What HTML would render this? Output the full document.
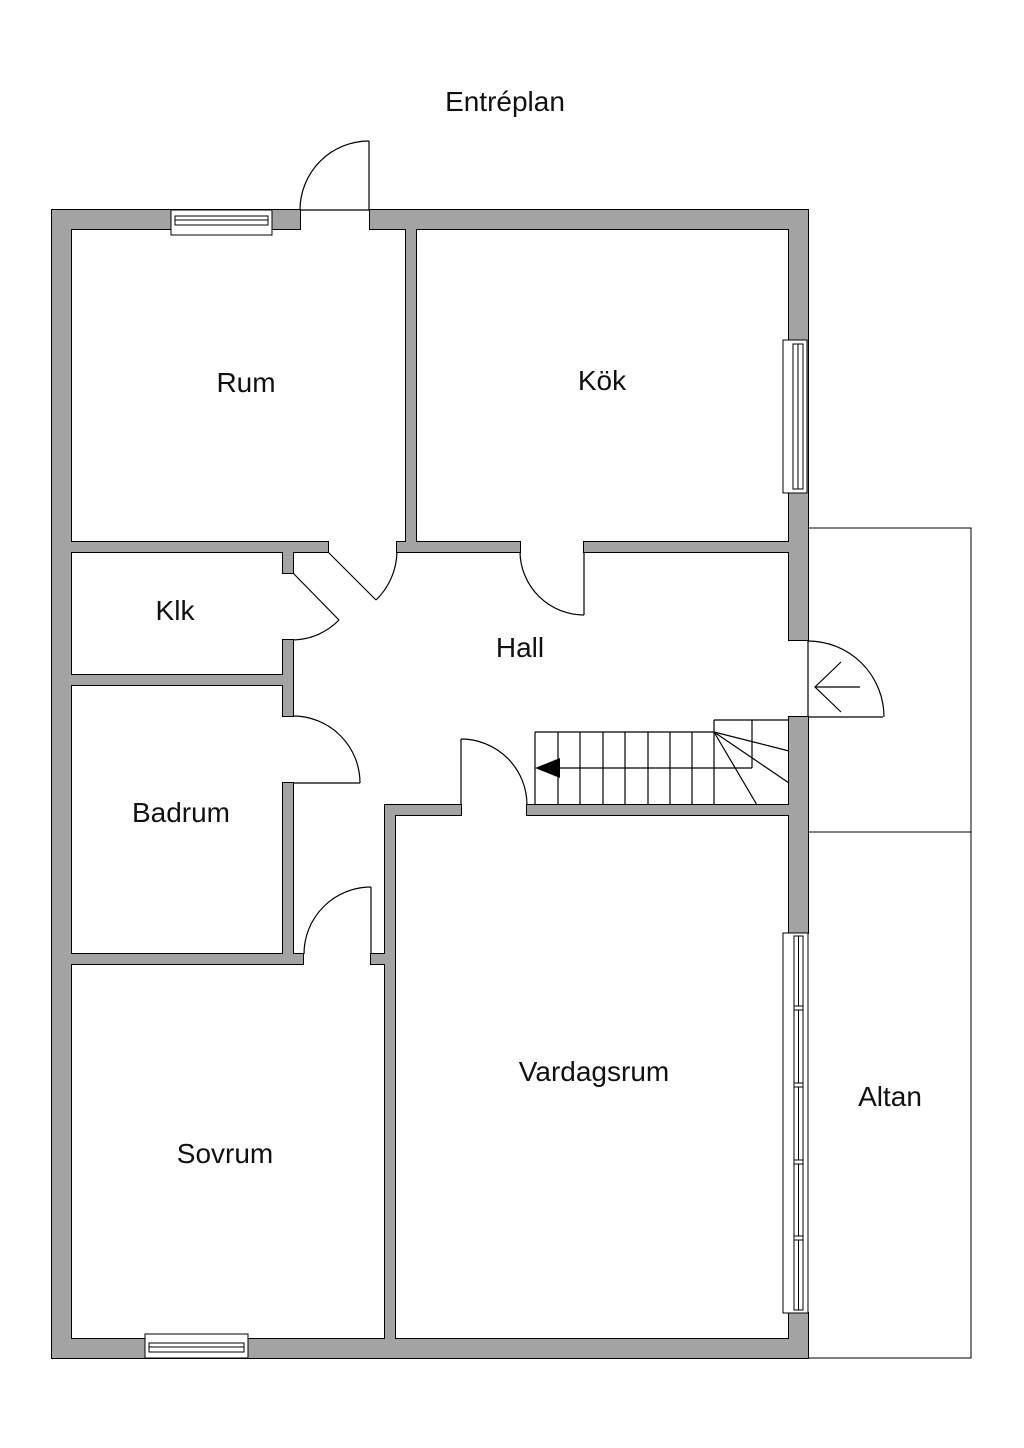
<!DOCTYPE html>
<html><head><meta charset="utf-8"><style>
html,body{margin:0;padding:0;background:#fff;}
svg{display:block;}
text{font-family:"Liberation Sans",sans-serif;font-size:28px;fill:#111;text-anchor:middle;}
</style></head><body>
<svg width="1024" height="1448" viewBox="0 0 1024 1448">
<rect width="1024" height="1448" fill="#fff"/>
<!-- Altan -->
<rect x="808" y="528" width="163" height="830" fill="none" stroke="#000" stroke-width="1"/>
<line x1="808" y1="832" x2="971" y2="832" stroke="#000"/>
<g id="walls">
<g stroke="#000" stroke-width="2" fill="#000">
<rect x="52" y="210" width="248" height="19"/><rect x="370" y="210" width="438" height="19"/>
<rect x="52" y="210" width="19" height="1148"/><rect x="52" y="1339" width="756" height="19"/>
<rect x="789" y="210" width="19" height="430"/><rect x="789" y="717" width="19" height="216"/><rect x="789" y="1313" width="19" height="45"/>
<rect x="406" y="229" width="10" height="323"/>
<rect x="71" y="542" width="257" height="10"/><rect x="397" y="542" width="123" height="10"/><rect x="584" y="542" width="205" height="10"/>
<rect x="283" y="552" width="10" height="21"/><rect x="283" y="640" width="10" height="76"/><rect x="283" y="783" width="10" height="181"/>
<rect x="71" y="675" width="212" height="10"/>
<rect x="71" y="954" width="232" height="10"/><rect x="371" y="954" width="14" height="10"/>
<rect x="385" y="805" width="10" height="534"/><rect x="385" y="805" width="76" height="10"/>
<rect x="527" y="805" width="262" height="10"/>
</g>
<g fill="#a3a3a3">
<rect x="52" y="210" width="248" height="19"/><rect x="370" y="210" width="438" height="19"/>
<rect x="52" y="210" width="19" height="1148"/><rect x="52" y="1339" width="756" height="19"/>
<rect x="789" y="210" width="19" height="430"/><rect x="789" y="717" width="19" height="216"/><rect x="789" y="1313" width="19" height="45"/>
<rect x="406" y="229" width="10" height="323"/>
<rect x="71" y="542" width="257" height="10"/><rect x="397" y="542" width="123" height="10"/><rect x="584" y="542" width="205" height="10"/>
<rect x="283" y="552" width="10" height="21"/><rect x="283" y="640" width="10" height="76"/><rect x="283" y="783" width="10" height="181"/>
<rect x="71" y="675" width="212" height="10"/>
<rect x="71" y="954" width="232" height="10"/><rect x="371" y="954" width="14" height="10"/>
<rect x="385" y="805" width="10" height="534"/><rect x="385" y="805" width="76" height="10"/>
<rect x="527" y="805" width="262" height="10"/>
</g>
</g>
<g fill="#fff" stroke="#000" stroke-width="1">
<!-- top window -->
<rect x="171" y="210" width="101" height="25"/>
<rect x="175" y="216" width="93" height="9"/><line x1="175" y1="220" x2="268" y2="220"/>
<!-- bottom window -->
<rect x="145" y="1334" width="103" height="24"/>
<rect x="149" y="1343" width="95" height="9"/><line x1="149" y1="1347" x2="244" y2="1347"/>
<!-- kok window -->
<rect x="783" y="340" width="24" height="153"/>
<rect x="793" y="344" width="10" height="145"/><line x1="798" y1="344" x2="798" y2="489"/>
<!-- vardagsrum window -->
<rect x="783" y="933" width="25" height="380"/>
<rect x="794" y="936" width="9" height="374"/><line x1="798.5" y1="936" x2="798.5" y2="1310"/>
<rect x="794" y="1006" width="9" height="4"/><rect x="794" y="1083" width="9" height="4"/><rect x="794" y="1160" width="9" height="4"/><rect x="794" y="1236" width="9" height="4"/>
</g>
<g fill="none" stroke="#000" stroke-width="1.2">
<!-- entrance door top -->
<line x1="300" y1="210" x2="370" y2="210"/>
<line x1="369" y1="210" x2="369" y2="141"/>
<path d="M369 141 A69 69 0 0 0 300 210"/>
<!-- rum door -->
<line x1="328" y1="552" x2="376" y2="600"/>
<path d="M397 552 A69 69 0 0 1 376 600"/>
<!-- kok door -->
<line x1="584" y1="552" x2="584" y2="615"/>
<path d="M520 552 A64 64 0 0 0 584 615"/>
<!-- klk door -->
<line x1="293" y1="573" x2="339" y2="620"/>
<path d="M339 620 A66 66 0 0 1 293 640"/>
<!-- badrum door -->
<line x1="293" y1="783" x2="360" y2="783"/>
<path d="M293 716 A67 67 0 0 1 360 783"/>
<!-- sovrum door -->
<line x1="371" y1="954" x2="371" y2="887"/>
<path d="M371 887 A67 67 0 0 0 304 954"/>
<!-- vardagsrum door -->
<line x1="461" y1="805" x2="461" y2="739"/>
<path d="M461 739 A66 66 0 0 1 527 805"/>
<!-- exterior right door -->
<line x1="808" y1="640" x2="808" y2="717"/>
<line x1="808" y1="717" x2="883" y2="717"/>
<path d="M808 641 A76 76 0 0 1 884 717"/>
<line x1="815" y1="687" x2="860" y2="687"/>
<polyline points="841,662 815,687 841,712"/>
<!-- stairs -->
<line x1="535" y1="732" x2="714" y2="732"/>
<line x1="535" y1="732" x2="535" y2="805"/>
<line x1="558" y1="732" x2="558" y2="805"/><line x1="580" y1="732" x2="580" y2="805"/>
<line x1="603" y1="732" x2="603" y2="805"/><line x1="625" y1="732" x2="625" y2="805"/>
<line x1="648" y1="732" x2="648" y2="805"/><line x1="670" y1="732" x2="670" y2="805"/>
<line x1="692" y1="732" x2="692" y2="805"/><line x1="714" y1="720" x2="714" y2="805"/>
<line x1="714" y1="720" x2="789" y2="720"/>
<line x1="752" y1="720" x2="752" y2="768"/>
<line x1="555" y1="768" x2="752" y2="768"/>
<line x1="714" y1="732" x2="789" y2="751"/>
<line x1="714" y1="732" x2="789" y2="783"/>
<line x1="714" y1="732" x2="757" y2="805"/>
</g>
<polygon points="535,768 560,758 560,778" fill="#000"/>
<text x="505" y="111">Entréplan</text>
<text x="246" y="392">Rum</text>
<text x="602" y="390">Kök</text>
<text x="175" y="620">Klk</text>
<text x="520" y="657">Hall</text>
<text x="181" y="822">Badrum</text>
<text x="225" y="1163">Sovrum</text>
<text x="594" y="1081">Vardagsrum</text>
<text x="890" y="1106">Altan</text>
</svg>
</body></html>
